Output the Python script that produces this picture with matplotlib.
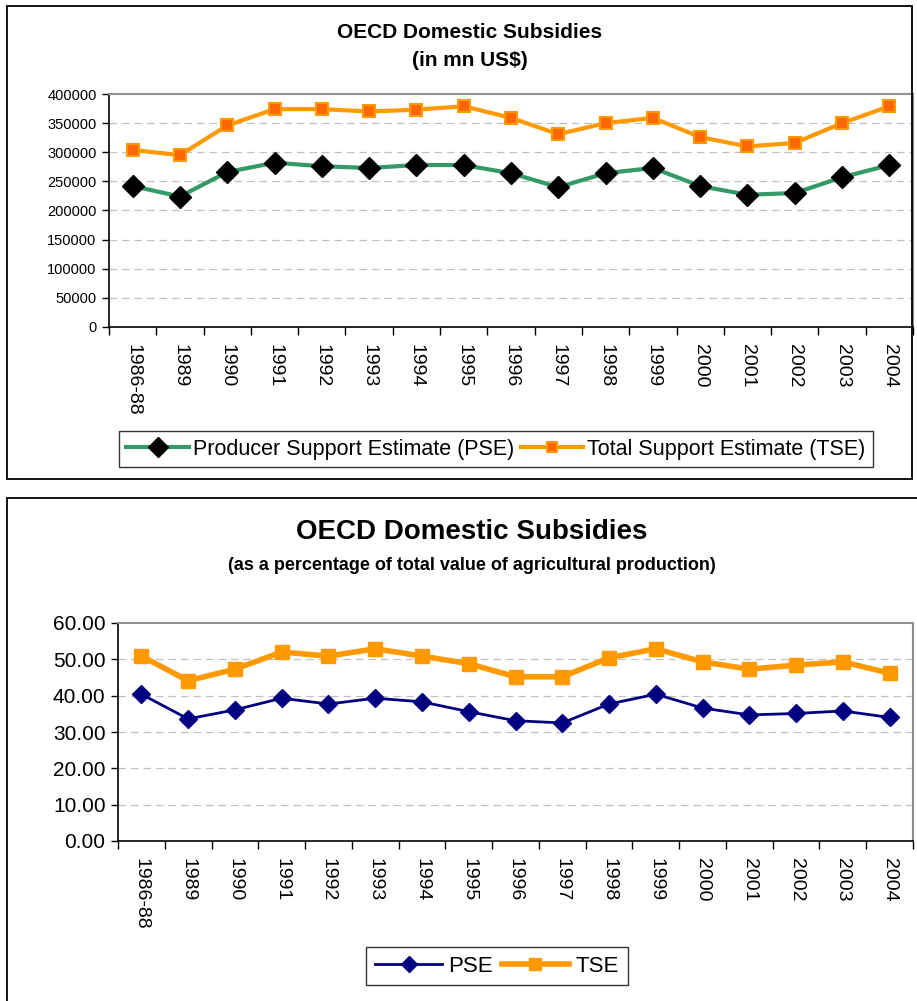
import matplotlib
matplotlib.use("Agg")
import matplotlib.pyplot as plt
from matplotlib.patches import Rectangle
import numpy as np

plt.rcParams['font.family'] = ['Liberation Sans', 'DejaVu Sans']

years = ["1986-88", "1989", "1990", "1991", "1992", "1993", "1994", "1995", "1996",
         "1997", "1998", "1999", "2000", "2001", "2002", "2003", "2004"]

pse_mn = [242000, 224000, 266000, 282000, 276000, 273000, 278000, 278000, 264000,
          240000, 264000, 273000, 242000, 227000, 230000, 257000, 278000]
tse_mn = [304000, 295000, 346000, 374000, 374000, 370000, 373000, 379000, 359000,
          331000, 350000, 359000, 326000, 310000, 316000, 350000, 379000]

pse_pct = [40.4, 33.6, 36.1, 39.3, 37.7, 39.3, 38.3, 35.6, 33.1,
           32.5, 37.7, 40.4, 36.6, 34.7, 35.1, 35.8, 34.0]
tse_pct = [50.9, 44.1, 47.3, 52.0, 50.9, 52.9, 50.9, 48.8, 45.2,
           45.2, 50.4, 52.9, 49.3, 47.3, 48.4, 49.3, 46.2]

W, H = 917, 1001
fig = plt.figure(figsize=(W / 100, H / 100), dpi=100)


def fx(px):
    return px / W


def fy(py):
    return 1 - py / H


# outer panel borders
fig.patches.append(Rectangle((fx(7), fy(479)), fx(912) - fx(7), fy(6) - fy(479),
                             transform=fig.transFigure, fill=False, ec='black', lw=1.3))
fig.patches.append(Rectangle((fx(7), fy(1010)), fx(925) - fx(7), fy(498) - fy(1010),
                             transform=fig.transFigure, fill=False, ec='black', lw=1.3))


def make_axes(left, top, right, bottom):
    return fig.add_axes([fx(left), fy(bottom), fx(right) - fx(left), fy(top) - fy(bottom)])


def style_axes(ax, ymax, ystep, yfmt, yfs, xfs):
    n = len(years)
    x = np.arange(n) + 0.5
    ax.set_xlim(0, n)
    ax.set_ylim(0, ymax)
    ax.set_yticks(np.arange(0, ymax + ystep / 2, ystep))
    ax.set_yticklabels([yfmt(v) for v in np.arange(0, ymax + ystep / 2, ystep)], fontsize=yfs)
    ax.set_xticks(np.arange(0, n + 1))
    ax.set_xticklabels([])
    ax.set_xticks(x, minor=True)
    ax.set_xticklabels(years, minor=True, rotation=270, fontsize=xfs, va='top', ha='center')
    ax.tick_params(axis='x', which='minor', length=0, pad=12)
    ax.tick_params(axis='x', which='major', direction='out', length=6, width=1, color='black')
    ax.tick_params(axis='y', direction='out', length=5, width=1, color='black', pad=4)
    for yv in np.arange(ystep, ymax, ystep):
        ax.axhline(yv, color='#c0c0c0', lw=0.9, ls=(0, (6, 4)), zorder=0)
    ax.spines['left'].set_color('black')
    ax.spines['bottom'].set_color('black')
    ax.spines['left'].set_linewidth(1.2)
    ax.spines['bottom'].set_linewidth(1.2)
    ax.spines['top'].set_color('#909090')
    ax.spines['right'].set_color('#909090')
    ax.spines['top'].set_linewidth(1.5)
    ax.spines['right'].set_linewidth(1.5)
    return x


# ---------- top chart ----------
ax1 = make_axes(109, 94, 913, 327)
x = style_axes(ax1, 400000, 50000, lambda v: f"{int(v)}", 10.5, 14)
l1, = ax1.plot(x, pse_mn, color='#339966', lw=3, marker='D', ms=11, mfc='black', mec='black',
               label='Producer Support Estimate (PSE)', zorder=3)
l2, = ax1.plot(x, tse_mn, color='#FF9900', lw=3, marker='s', ms=8, mfc='#FF6600', mec='#FF9900',
               mew=1.5, label='Total Support Estimate (TSE)', zorder=3)
fig.text(fx(470), fy(33), "OECD Domestic Subsidies", ha='center', va='center',
         fontsize=15, fontweight='bold')
fig.text(fx(470), fy(60), "(in mn US$)", ha='center', va='center',
         fontsize=15, fontweight='bold')
leg1 = fig.legend(handles=[l1, l2], loc='center', bbox_to_anchor=(fx(496), fy(449)),
                  ncol=2, fontsize=15.5, frameon=True, fancybox=False, edgecolor='black',
                  handlelength=2.9, columnspacing=0.3, handletextpad=0.2, borderpad=0.35,
                  markerscale=0.9)
leg1.get_frame().set_linewidth(1.0)

# ---------- bottom chart ----------
ax2 = make_axes(118, 623, 913, 841)
x = style_axes(ax2, 60, 10, lambda v: f"{v:.2f}", 15, 14)
l3, = ax2.plot(x, pse_pct, color='#000080', lw=2, marker='D', ms=9, mfc='#000080', mec='#000080',
               label='PSE', zorder=3)
l4, = ax2.plot(x, tse_pct, color='#FF9900', lw=4, marker='s', ms=10, mfc='#FF9900', mec='#FF9900',
               label='TSE', zorder=3)
fig.text(fx(472), fy(532), "OECD Domestic Subsidies", ha='center', va='center',
         fontsize=20, fontweight='bold')
fig.text(fx(472), fy(565), "(as a percentage of total value of agricultural production)",
         ha='center', va='center', fontsize=13, fontweight='bold')
leg2 = fig.legend(handles=[l3, l4], loc='center', bbox_to_anchor=(fx(497), fy(966)),
                  ncol=2, fontsize=16, frameon=True, fancybox=False, edgecolor='black',
                  handlelength=3.0, columnspacing=0.4, handletextpad=0.3, borderpad=0.4,
                  markerscale=0.9)
leg2.get_frame().set_linewidth(1.0)

fig.savefig("out.png", dpi=100)
